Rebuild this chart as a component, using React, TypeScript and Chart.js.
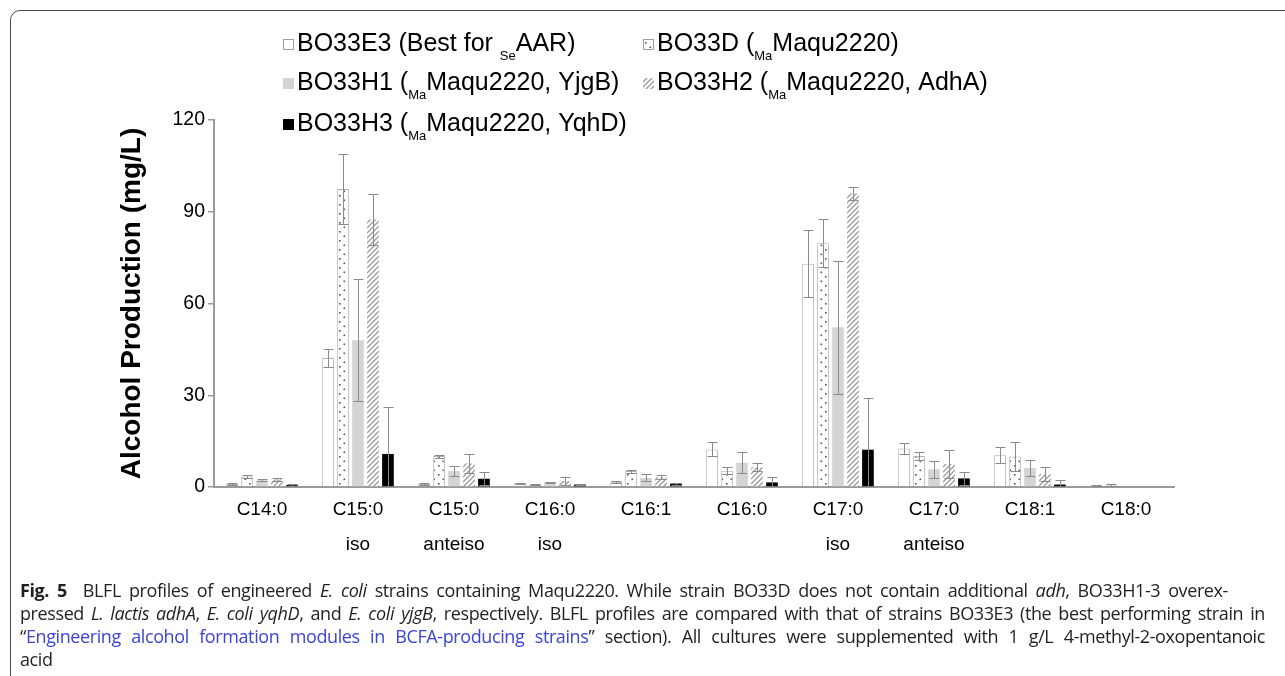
import React, { useEffect, useRef } from 'react';
import { Chart, registerables } from 'chart.js';

Chart.register(...registerables);

const categories: string[][] = [
  ['C14:0'], ['C15:0', 'iso'], ['C15:0', 'anteiso'], ['C16:0', 'iso'], ['C16:1'],
  ['C16:0'], ['C17:0', 'iso'], ['C17:0', 'anteiso'], ['C18:1'], ['C18:0'],
];

const e3Values = [1.0, 42.2, 1.0, 1.2, 1.7, 12.3, 73.0, 12.6, 10.4, 0.4];
const e3Errors = [0.2, 3.0, 0.2, 0.2, 0.4, 2.3, 11.0, 1.7, 2.6, 0.1];
const dValues = [3.4, 97.4, 10.1, 0.9, 5.2, 5.3, 79.7, 10.1, 10.0, 0.6];
const dErrors = [0.4, 11.5, 0.5, 0.2, 0.5, 1.1, 7.8, 1.2, 4.8, 0.3];
const h1Values = [2.2, 48.0, 5.2, 1.5, 3.0, 7.9, 52.2, 5.8, 6.2, 0];
const h1Errors = [0.4, 20.0, 1.6, 0.2, 1.1, 3.4, 21.7, 2.8, 2.5, 0];
const h2Values = [2.5, 87.5, 7.7, 2.0, 3.2, 6.4, 96.0, 7.5, 4.2, 0];
const h2Errors = [0.6, 8.3, 3.0, 1.4, 0.6, 1.3, 2.0, 4.5, 2.2, 0];
const h3Values = [0.6, 10.8, 2.7, 0.8, 1.1, 1.5, 12.2, 2.8, 0.8, 0];
const h3Errors = [0.3, 15.2, 2.2, 0.1, 0.3, 1.9, 17.0, 2.1, 1.5, 0];

const seriesNames = [
  'BO33E3 (Best for SeAAR)',
  'BO33D (MaMaqu2220)',
  'BO33H1 (MaMaqu2220, YjgB)',
  'BO33H2 (MaMaqu2220, AdhA)',
  'BO33H3 (MaMaqu2220, YqhD)',
];

type Part = { t: string; sub?: boolean };
const legendParts: Part[][] = [
  [{ t: 'BO33E3 (Best for ' }, { t: 'Se', sub: true }, { t: 'AAR)' }],
  [{ t: 'BO33D (' }, { t: 'Ma', sub: true }, { t: 'Maqu2220)' }],
  [{ t: 'BO33H1 (' }, { t: 'Ma', sub: true }, { t: 'Maqu2220, YjgB)' }],
  [{ t: 'BO33H2 (' }, { t: 'Ma', sub: true }, { t: 'Maqu2220, AdhA)' }],
  [{ t: 'BO33H3 (' }, { t: 'Ma', sub: true }, { t: 'Maqu2220, YqhD)' }],
];
const legendX = [283, 643, 283, 643, 283];
const legendBase = [51, 51, 90, 90, 131];

const yTicks = [0, 30, 60, 90, 120];

const FONT = '"Liberation Sans", Arial, sans-serif';

function makeDots(): CanvasPattern | string {
  const c = document.createElement('canvas');
  c.width = 9; c.height = 9;
  const g = c.getContext('2d');
  if (!g) return '#fff';
  g.fillStyle = '#fff';
  g.fillRect(0, 0, 9, 9);
  g.fillStyle = '#555';
  g.fillRect(1.5, 1.5, 1.6, 1.6);
  g.fillRect(6, 6, 1.6, 1.6);
  return g.createPattern(c, 'repeat') || '#fff';
}

function makeHatch(): CanvasPattern | string {
  const s = 5;
  const c = document.createElement('canvas');
  c.width = s; c.height = s;
  const g = c.getContext('2d');
  if (!g) return '#ccc';
  g.fillStyle = '#fff';
  g.fillRect(0, 0, s, s);
  g.strokeStyle = '#9a9a9a';
  g.lineWidth = 1.3;
  g.beginPath();
  g.moveTo(0, s); g.lineTo(s, 0);
  g.moveTo(-s, s); g.lineTo(s, -s);
  g.moveTo(0, 2 * s); g.lineTo(2 * s, 0);
  g.stroke();
  return g.createPattern(c, 'repeat') || '#ccc';
}

export default function App() {
  const ref = useRef<HTMLCanvasElement | null>(null);

  useEffect(() => {
    if (!ref.current) return;
    const dots = makeDots();
    const hatch = makeHatch();
    const fills: any[] = ['#ffffff', dots, '#d4d4d4', hatch, '#000000'];
    const borders = ['#b0b0b0', '#b0b0b0', '#d4d4d4', 'rgba(0,0,0,0)', '#000000'];
    const borderWidths = [1, 1, 0, 0, 0];

    const errorBarPlugin = {
      id: 'errorBars',
      afterDatasetsDraw(chart: any) {
        const ctx = chart.ctx;
        const y = chart.scales.y;
        chart.data.datasets.forEach((ds: any, di: number) => {
          const meta = chart.getDatasetMeta(di);
          meta.data.forEach((bar: any, i: number) => {
            const v = ds.data[i];
            const e = ds.errors[i];
            if (!e) return;
            const x = Math.round(bar.x) + 0.5;
            const yHi = Math.round(y.getPixelForValue(v + e)) + 0.5;
            const yLo = Math.round(y.getPixelForValue(Math.max(0, v - e))) + 0.5;
            ctx.save();
            ctx.strokeStyle = '#8a8a8a';
            ctx.lineWidth = 1;
            ctx.beginPath();
            ctx.moveTo(x, yLo); ctx.lineTo(x, yHi);
            ctx.moveTo(x - 5, yHi); ctx.lineTo(x + 5, yHi);
            if (v - e > 0) { ctx.moveTo(x - 5, yLo); ctx.lineTo(x + 5, yLo); }
            ctx.stroke();
            ctx.restore();
          });
        });
      },
    };

    const legendPlugin = {
      id: 'customLegend',
      afterDraw(chart: any) {
        const ctx = chart.ctx;
        ctx.save();
        legendParts.forEach((parts, k) => {
          const x = legendX[k];
          const base = legendBase[k];
          const sy = base - 12;
          ctx.fillStyle = fills[k];
          ctx.fillRect(x, sy, 11, 11);
          if (k === 0 || k === 1) {
            ctx.strokeStyle = '#a0a0a0';
            ctx.lineWidth = 1;
            ctx.strokeRect(x + 0.5, sy + 0.5, 10, 10);
          }
          let tx = x + 14;
          ctx.fillStyle = '#000';
          ctx.textBaseline = 'alphabetic';
          ctx.textAlign = 'left';
          parts.forEach((p) => {
            ctx.font = p.sub ? `13px ${FONT}` : `25px ${FONT}`;
            ctx.fillText(p.t, tx, p.sub ? base + 9 : base);
            tx += ctx.measureText(p.t).width;
          });
        });
        ctx.restore();
      },
    };

    const valueSets = [e3Values, dValues, h1Values, h2Values, h3Values];
    const errorSets = [e3Errors, dErrors, h1Errors, h2Errors, h3Errors];

    const chart = new Chart(ref.current, {
      type: 'bar',
      data: {
        labels: categories,
        datasets: valueSets.map((vals, k) => ({
          label: seriesNames[k],
          data: vals,
          errors: errorSets[k],
          backgroundColor: fills[k],
          borderColor: borders[k],
          borderWidth: borderWidths[k],
          categoryPercentage: 0.78,
          barPercentage: 0.78,
        })) as any,
      },
      options: {
        responsive: false,
        animation: false,
        devicePixelRatio: 1,
        layout: { padding: { top: 120, right: 111, left: 0, bottom: 0 } },
        plugins: { legend: { display: false }, tooltip: { enabled: false } },
        scales: {
          x: {
            grid: { display: true, drawOnChartArea: false, drawTicks: false, color: 'rgba(0,0,0,0)' },
            border: { display: true, color: '#9a9a9a', width: 2 },
            ticks: {
              color: '#000',
              padding: 5,
              autoSkip: false,
              maxRotation: 0,
              font: { family: FONT, size: 19, lineHeight: 1.84 },
            },
            afterFit: (scale: any) => { scale.height = 93; },
          },
          y: {
            min: 0,
            max: 120,
            afterBuildTicks: (scale: any) => { scale.ticks = yTicks.map((v) => ({ value: v })); },
            grid: { drawOnChartArea: false, drawTicks: true, tickLength: 6, color: '#9a9a9a', lineWidth: 1.5 },
            border: { display: true, color: '#9a9a9a', width: 2 },
            ticks: { color: '#000', padding: 3, font: { family: FONT, size: 19.5 } },
            title: {
              display: true,
              text: 'Alcohol Production (mg/L)',
              color: '#000',
              font: { family: FONT, size: 28, weight: 'bold' },
              padding: { top: 115, bottom: 0 },
            },
            afterFit: (scale: any) => { scale.width = 214; },
          },
        },
      } as any,
      plugins: [errorBarPlugin, legendPlugin],
    });
    return () => chart.destroy();
  }, []);

  const cap: React.CSSProperties = {
    position: 'absolute',
    left: 20,
    height: 23,
    lineHeight: '23px',
    whiteSpace: 'nowrap',
    textAlign: 'justify',
    textAlignLast: 'justify' as any,
  };

  return (
    <div style={{ position: 'fixed', left: 0, top: 0, width: 1285, height: 676, overflow: 'hidden', background: '#fff' }}>
      <div style={{ position: 'absolute', left: 10, top: 10, width: 1300, height: 720, border: '1.5px solid #4a4a4a', borderRadius: 10, boxSizing: 'border-box' }} />
      <canvas ref={ref} width={1285} height={580} style={{ position: 'absolute', left: 0, top: 0, width: 1285, height: 580 }} />
      <div style={{ position: 'absolute', left: 0, top: 0, fontFamily: '"Open Sans", "Noto Sans", sans-serif', fontSize: 18, color: '#231f20', letterSpacing: -0.4 }}>
        <div style={{ ...cap, top: 579, width: 1208 }}>
          <b>Fig. 5</b>{'\u00a0\u00a0'}BLFL profiles of engineered <i>E. coli</i> strains containing Maqu2220. While strain BO33D does not contain additional <i>adh</i>, BO33H1-3 overex-
        </div>
        <div style={{ ...cap, top: 602, width: 1245 }}>
          pressed <i>L. lactis adhA</i>, <i>E. coli yqhD</i>, and <i>E. coli yjgB</i>, respectively. BLFL profiles are compared with that of strains BO33E3 (the best performing strain in
        </div>
        <div style={{ ...cap, top: 625, width: 1245 }}>
          “<span style={{ color: '#3a44d6' }}>Engineering alcohol formation modules in BCFA-producing strains</span>” section). All cultures were supplemented with 1 g/L 4-methyl-2-oxopentanoic
        </div>
        <div style={{ ...cap, top: 648, textAlignLast: 'left' as any }}>acid</div>
      </div>
    </div>
  );
}
